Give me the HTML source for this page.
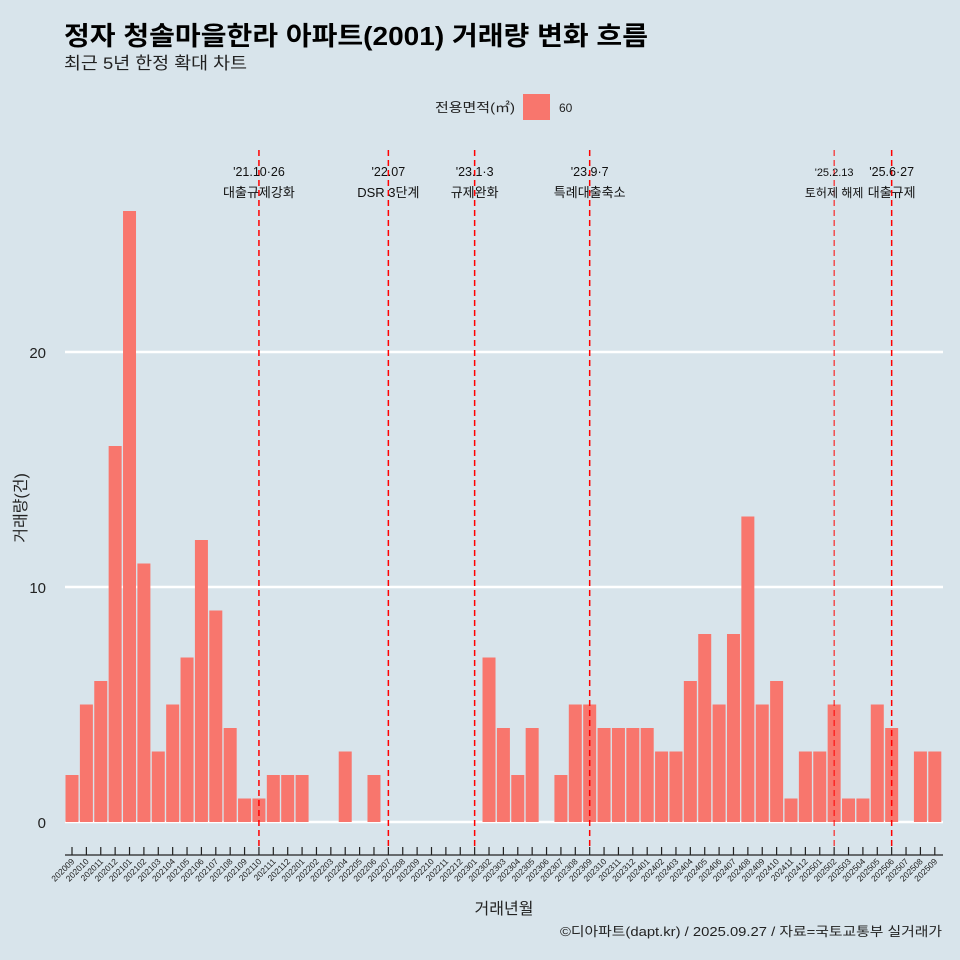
<!DOCTYPE html>
<html><head><meta charset="utf-8"><style>
body{margin:0;background:#d8e4eb;}
svg{display:block;font-family:"Liberation Sans","Noto Sans CJK KR",sans-serif;}
</style></head><body>
<svg id="chart" width="960" height="960" viewBox="0 0 960 960">
<rect width="960" height="960" fill="#d8e4eb"/>
<text x="64" y="45" font-size="26" font-weight="bold" fill="#000" textLength="584" lengthAdjust="spacingAndGlyphs">정자 청솔마을한라 아파트(2001) 거래량 변화 흐름</text>
<text x="64" y="69" font-size="17" fill="#222" textLength="183" lengthAdjust="spacingAndGlyphs">최근 5년 한정 확대 차트</text>
<g>
<text x="515" y="112" font-size="13" text-anchor="end" fill="#222" textLength="80" lengthAdjust="spacingAndGlyphs">전용면적(㎡)</text>
<rect x="523" y="94" width="27" height="26" fill="#f8766d"/>
<text x="559" y="112" font-size="12" fill="#222">60</text>
</g>
<g id="grid"></g>
<g id="bars"></g>
<g id="events"></g>
<g id="xaxis"></g>
<text x="18" y="500" font-size="16" fill="#222" text-anchor="middle" transform="rotate(-90 26 500)">거래량(건)</text>
<text x="504" y="914" font-size="16" fill="#222" text-anchor="middle">거래년월</text>
<text x="942" y="936" font-size="13" fill="#222" text-anchor="end" textLength="382" lengthAdjust="spacingAndGlyphs">©디아파트(dapt.kr) / 2025.09.27 / 자료=국토교통부 실거래가</text>
</svg>
<script>
const months=[];
for(let y=2020,m=9;!(y===2025&&m===10);){months.push(y+String(m).padStart(2,'0'));m++;if(m>12){m=1;y++;}}
const values=[2,5,6,16,26,11,3,5,7,12,9,4,1,1,2,2,2,0,0,3,0,2,0,0,0,0,0,0,0,7,4,2,4,0,2,5,5,4,4,4,4,3,3,6,8,5,8,13,5,6,1,3,3,5,1,1,5,4,0,3,3];
const yTicks=[0,10,20];
const eventMonths=["202110","202207","202301","202309","202502","202506"];
const eventDates=["'21.10·26","'22.07","'23.1·3","'23.9·7","'25.2.13","'25.6·27"];
const eventNames=["대출규제강화","DSR 3단계","규제완화","특례대출축소","토허제 해제","대출규제"];

const NS="http://www.w3.org/2000/svg";
function mk(t,a,p){const e=document.createElementNS(NS,t);for(const k in a)e.setAttribute(k,a[k]);p.appendChild(e);return e;}
const x0=72,step=14.38,yZero=822,pxPer=23.5,bw=13;
const xs=i=>x0+i*step;
const ys=v=>yZero-v*pxPer;
const grid=document.getElementById('grid');
yTicks.forEach(t=>{
 const l=mk('line',{x1:65,x2:943,y1:ys(t),y2:ys(t),stroke:'#fff','stroke-width':2.5},grid);
 
 
 const tx=mk('text',{x:46,y:ys(t)+6,'font-size':15,'text-anchor':'end',fill:'#222'},grid);
 tx.textContent=t;
 
 
});
const bars=document.getElementById('bars');
values.forEach((v,i)=>{
 if(v<=0)return;
 const r=mk('rect',{x:xs(i)-bw/2,y:ys(v),width:bw,height:v*pxPer,fill:'#f8766d'},bars);
 
 
});
const ev=document.getElementById('events');
eventMonths.forEach((m,k)=>{
 const i=months.indexOf(m);const x=xs(i);
 const small=k===4;
 const l=mk('line',{x1:x,x2:x,y1:150,y2:848,stroke:'#ff0000','stroke-width':small?1:1.5,'stroke-dasharray':'6,4'},ev);
 
 
 const t1=mk('text',{x:x,y:176,'font-size':small?11:12.5,'text-anchor':'middle',fill:'#111'},ev);
 t1.textContent=eventDates[k];
 
 
 const t2=mk('text',{x:x,y:197,'font-size':small?12:13,'text-anchor':'middle',fill:'#111'},ev);
 t2.textContent=eventNames[k];
 
 
});
const xa=document.getElementById('xaxis');
const al=mk('line',{x1:65,x2:943,y1:855,y2:855,stroke:'#222','stroke-width':1.2},xa);


months.forEach((m,i)=>{
 const x=xs(i);
 const t=mk('line',{x1:x,x2:x,y1:847,y2:855,stroke:'#222','stroke-width':1.2},xa);
 
 
 const tx=mk('text',{x:x+3,y:862,'font-size':8.5,'text-anchor':'end',fill:'#222',transform:`rotate(-45 ${x+3} 862)`},xa);
 tx.textContent=m;
 
 
});
</script>
</body></html>
